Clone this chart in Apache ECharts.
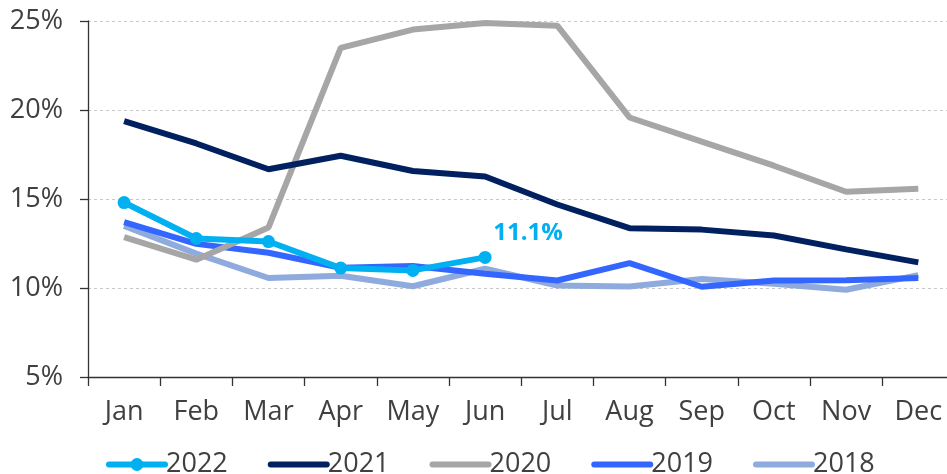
<!DOCTYPE html>
<html>
<head>
<meta charset="utf-8">
<script src="https://cdn.jsdelivr.net/npm/echarts@6/dist/echarts.min.js"></script>
<style>
html,body{margin:0;padding:0;background:#fff;}
#chart{width:947px;height:474px;}
</style>
</head>
<body>
<div id="chart"></div>
<script>
var categories = ['Jan','Feb','Mar','Apr','May','Jun','Jul','Aug','Sep','Oct','Nov','Dec'];
var seriesNames = ['2022','2021','2020','2019','2018'];
var v2022 = [14.80, 12.78, 12.61, 11.12, 10.99, 11.72];
var v2021 = [19.38, 18.12, 16.67, 17.43, 16.57, 16.26, 14.69, 13.36, 13.28, 12.95, 12.17, 11.44];
var v2020 = [12.86, 11.59, 13.40, 23.49, 24.52, 24.89, 24.74, 19.58, 18.22, 16.87, 15.41, 15.58];
var v2019 = [13.70, 12.48, 11.98, 11.14, 11.23, 10.80, 10.42, 11.40, 10.07, 10.42, 10.43, 10.56];
var v2018 = [13.49, 11.93, 10.56, 10.69, 10.10, 11.08, 10.14, 10.09, 10.50, 10.24, 9.90, 10.72];
var yTicks = [5, 10, 15, 20, 25];
var lastLabelText = '11.1%';

var colors = ['#00B0F0', '#002060', '#A6A6A6', '#3366FF', '#8FAADC'];
var FONT = '"Open Sans", sans-serif';
var TXT = '#404040';
var LW = 6;

function lineSeries(name, data, color, withSymbol) {
  return {
    name: name,
    type: 'line',
    data: data,
    color: color,
    lineStyle: { width: LW, color: color },
    itemStyle: { color: color },
    symbol: 'circle',
    symbolSize: 13,
    showSymbol: withSymbol,
    animation: false,
    z: 10 - seriesNames.indexOf(name)
  };
}

var s2022 = lineSeries('2022', v2022.map(function (v, i) {
  if (i === v2022.length - 1) {
    return {
      value: v,
      label: {
        show: true,
        formatter: function () { return lastLabelText; },
        position: 'top',
        offset: [43, -1],
        color: '#00B0F0',
        fontFamily: FONT,
        fontWeight: 'bold',
        fontSize: 24
      }
    };
  }
  return v;
}), colors[0], true);
s2022.z = 20;

var legendData = seriesNames.map(function (n, i) {
  if (i === 0) return { name: n };
  return { name: n, itemStyle: { opacity: 0 } };
});

var option = {
  backgroundColor: '#fff',
  animation: false,
  grid: { left: 88, width: 866.4, top: 21, bottom: 97, containLabel: false, outerBoundsMode: 'none' },
  legend: {
    data: legendData,
    left: 101,
    top: 446,
    itemWidth: 56,
    itemHeight: 16,
    itemGap: 40,
    lineStyle: { width: 6, cap: 'round' },
    textStyle: { fontFamily: FONT, fontSize: 27, color: TXT, padding: [0, 0, 0, -4] }
  },
  xAxis: {
    type: 'category',
    data: categories,
    boundaryGap: true,
    axisLine: { show: true, lineStyle: { color: '#333', width: 1.3 } },
    axisTick: { show: true, length: 9, lineStyle: { color: '#333', width: 1.3 } },
    axisLabel: { margin: 22, fontFamily: FONT, fontSize: 27, color: TXT, interval: 0 },
    splitLine: { show: false }
  },
  yAxis: {
    type: 'value',
    min: yTicks[0],
    max: yTicks[yTicks.length - 1],
    interval: 5,
    axisLine: { show: true, lineStyle: { color: '#333', width: 1.3 } },
    axisTick: { show: true, length: 8, lineStyle: { color: '#333', width: 1.3 } },
    axisLabel: { margin: 25, fontFamily: FONT, fontSize: 27, color: TXT, formatter: '{value}%' },
    splitLine: { show: true, lineStyle: { color: '#c8c8c8', type: [3, 3], width: 1 } }
  },
  series: [
    s2022,
    lineSeries('2021', v2021, colors[1], false),
    lineSeries('2020', v2020, colors[2], false),
    lineSeries('2019', v2019, colors[3], false),
    lineSeries('2018', v2018, colors[4], false)
  ]
};

var chart = echarts.init(document.getElementById('chart'), null, { renderer: 'canvas' });
chart.setOption(option);
</script>
</body>
</html>
